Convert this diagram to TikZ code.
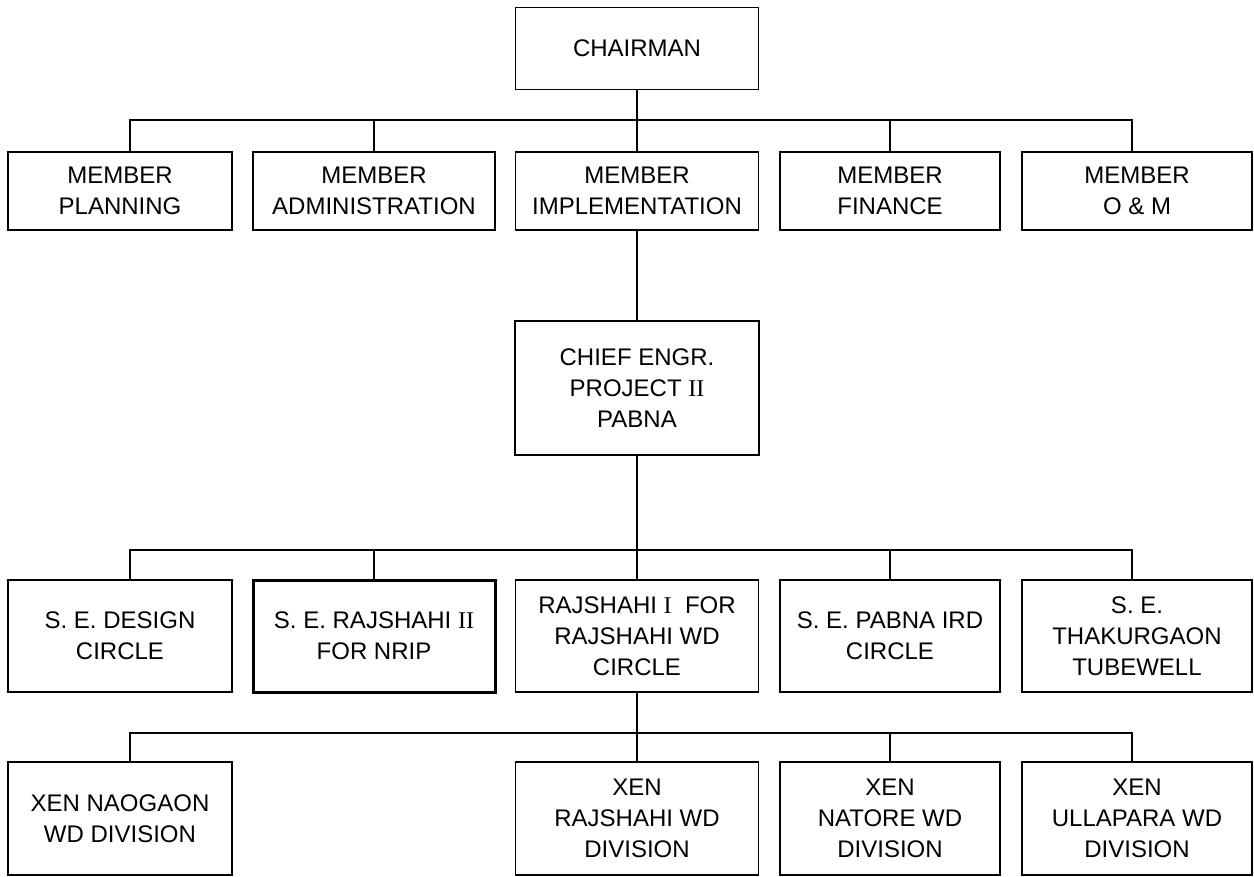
\documentclass[tikz,border=0pt]{standalone}
\usepackage{fontspec}
\setmainfont{Liberation Sans}
\newfontfamily\romI{Liberation Serif}
\begin{document}
\begin{tikzpicture}[x=1pt,y=-1pt,
  box/.style={draw, line width=1.5pt, inner sep=0pt, align=center,
    font=\fontsize{24}{31}\selectfont},
  conn/.style={line width=1.5pt}]
\useasboundingbox (0,0) rectangle (1254,877);
\fill[white] (0,0) rectangle (1254,877);
% top
\node[box, minimum width=243pt, minimum height=82pt] (chair) at (637,48.5) {CHAIRMAN};
% members
\node[box, minimum width=224pt, minimum height=78pt] (m1) at (120,191) {MEMBER\\PLANNING};
\node[box, minimum width=242pt, minimum height=78pt] (m2) at (374,191) {MEMBER\\ADMINISTRATION};
\node[box, minimum width=243pt, minimum height=78pt] (m3) at (637,191) {MEMBER\\IMPLEMENTATION};
\node[box, minimum width=220pt, minimum height=78pt] (m4) at (890,191) {MEMBER\\FINANCE};
\node[box, minimum width=230pt, minimum height=78pt] (m5) at (1137,191) {MEMBER\\O \& M};
% chief
\node[box, minimum width=244pt, minimum height=134pt] (chief) at (637,388) {CHIEF ENGR.\\PROJECT {\romI II}\\PABNA};
% SE row
\node[box, minimum width=224pt, minimum height=112pt] (s1) at (120,636) {S. E. DESIGN\\CIRCLE};
\node[box, minimum width=242pt, minimum height=112pt, line width=3pt] (s2) at (374,636) {S. E. RAJSHAHI {\romI II}\\FOR NRIP};
\node[box, minimum width=243pt, minimum height=112pt] (s3) at (637,636) {RAJSHAHI {\romI I}\ \ FOR\\RAJSHAHI WD\\CIRCLE};
\node[box, minimum width=220pt, minimum height=112pt] (s4) at (890,636) {S. E. PABNA IRD\\CIRCLE};
\node[box, minimum width=230pt, minimum height=112pt] (s5) at (1137,636) {S. E.\\THAKURGAON\\TUBEWELL};
% XEN row
\node[box, minimum width=224pt, minimum height=113pt] (x1) at (120,818.5) {XEN NAOGAON\\WD DIVISION};
\node[box, minimum width=243pt, minimum height=113pt] (x3) at (637,818.5) {XEN\\RAJSHAHI WD\\DIVISION};
\node[box, minimum width=220pt, minimum height=113pt] (x4) at (890,818.5) {XEN\\NATORE WD\\DIVISION};
\node[box, minimum width=230pt, minimum height=113pt] (x5) at (1137,818.5) {XEN\\ULLAPARA WD\\DIVISION};
% bus coordinates
\coordinate (bus1) at (637,120);
\coordinate (bus2) at (637,550);
\coordinate (bus3) at (637,733);
% level 1
\coordinate (d11) at ([xshift=10pt]m1.north);
\coordinate (d15) at ([xshift=-5pt]m5.north);
\draw[conn] (chair.south) -- (m3.north);
\draw[conn] (d11) |- (d15 |- bus1) -- (d15);
\draw[conn] (m2.north) -- (m2.north |- bus1);
\draw[conn] (m4.north) -- (m4.north |- bus1);
\draw[conn] (m3.south) -- (chief.north);
% level 2
\coordinate (d21) at ([xshift=10pt]s1.north);
\coordinate (d25) at ([xshift=-5pt]s5.north);
\draw[conn] (chief.south) -- (s3.north);
\draw[conn] (d21) |- (d25 |- bus2) -- (d25);
\draw[conn] (s2.north) -- (s2.north |- bus2);
\draw[conn] (s4.north) -- (s4.north |- bus2);
% level 3
\coordinate (d31) at ([xshift=10pt]x1.north);
\coordinate (d35) at ([xshift=-5pt]x5.north);
\draw[conn] (s3.south) -- (x3.north);
\draw[conn] (d31) |- (d35 |- bus3) -- (d35);
\draw[conn] (x4.north) -- (x4.north |- bus3);
\end{tikzpicture}
\end{document}
